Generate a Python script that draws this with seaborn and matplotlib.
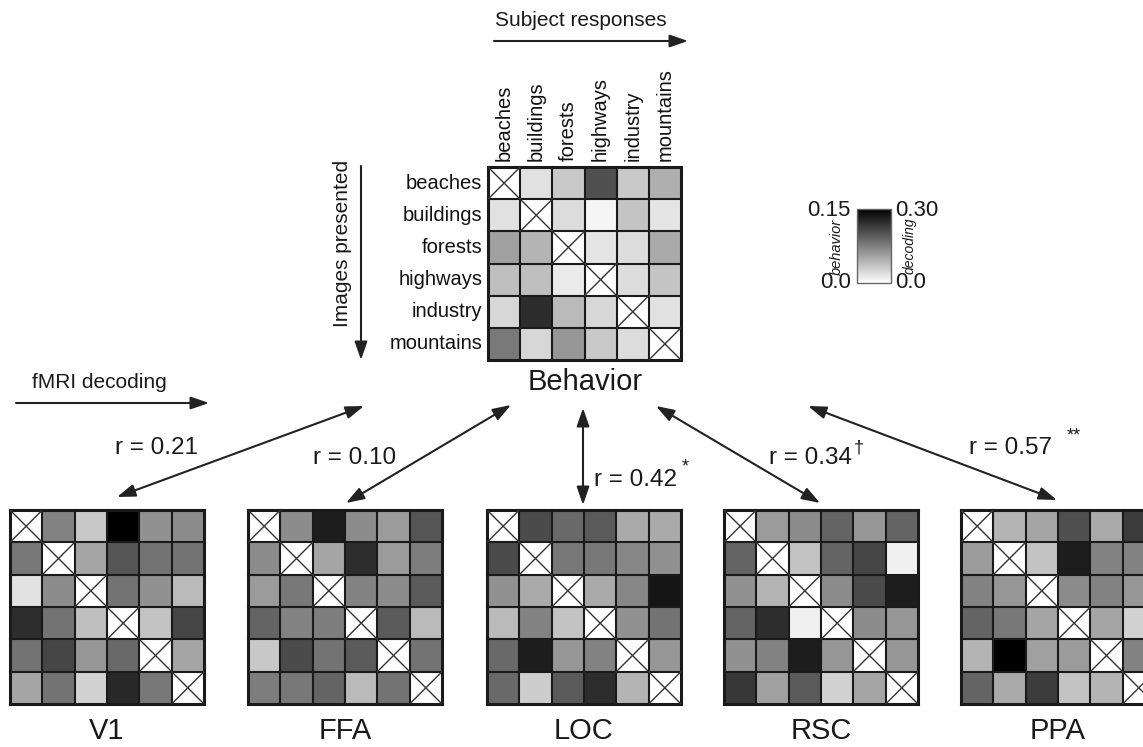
import numpy as np
import pandas as pd
import matplotlib
matplotlib.use('Agg')
import matplotlib.pyplot as plt
from matplotlib.colors import LinearSegmentedColormap
import seaborn as sns

sns.set_theme(style='white')
plt.rcParams['font.family'] = ['Liberation Sans', 'DejaVu Sans']

nan = np.nan

# ── DATA ─────────────────────────────────────────────
categories = ['beaches', 'buildings', 'forests', 'highways', 'industry', 'mountains']

# behavior confusion (proportion of responses), scale 0 - 0.15
behavior = [
    [nan, 0.018, 0.032, 0.103, 0.032, 0.047],
    [0.018, nan, 0.021, 0.006, 0.035, 0.016],
    [0.056, 0.044, nan, 0.016, 0.021, 0.050],
    [0.038, 0.038, 0.012, nan, 0.021, 0.035],
    [0.024, 0.124, 0.041, 0.024, nan, 0.018],
    [0.079, 0.024, 0.062, 0.032, 0.021, nan],
]

# fMRI decoding confusions, scale 0 - 0.30
v1 = [
    [nan, 0.147, 0.065, 0.300, 0.129, 0.135],
    [0.159, nan, 0.106, 0.200, 0.165, 0.165],
    [0.035, 0.135, nan, 0.165, 0.129, 0.082],
    [0.247, 0.165, 0.076, nan, 0.071, 0.218],
    [0.165, 0.218, 0.124, 0.176, nan, 0.106],
    [0.106, 0.165, 0.053, 0.253, 0.159, nan],
]
ffa = [
    [nan, 0.135, 0.265, 0.135, 0.118, 0.200],
    [0.135, nan, 0.106, 0.247, 0.118, 0.153],
    [0.118, 0.159, nan, 0.147, 0.135, 0.194],
    [0.182, 0.147, 0.153, nan, 0.194, 0.082],
    [0.065, 0.212, 0.165, 0.194, nan, 0.165],
    [0.153, 0.159, 0.182, 0.082, 0.165, nan],
]
loc = [
    [nan, 0.212, 0.176, 0.194, 0.100, 0.100],
    [0.212, nan, 0.159, 0.159, 0.141, 0.129],
    [0.129, 0.100, nan, 0.100, 0.141, 0.276],
    [0.082, 0.147, 0.071, nan, 0.129, 0.165],
    [0.176, 0.265, 0.124, 0.147, nan, 0.124],
    [0.176, 0.059, 0.194, 0.247, 0.088, nan],
]
rsc = [
    [nan, 0.118, 0.135, 0.182, 0.124, 0.182],
    [0.182, nan, 0.071, 0.182, 0.218, 0.018],
    [0.129, 0.088, nan, 0.135, 0.212, 0.265],
    [0.182, 0.247, 0.018, nan, 0.135, 0.124],
    [0.129, 0.147, 0.265, 0.124, nan, 0.124],
    [0.235, 0.112, 0.194, 0.053, 0.106, nan],
]
ppa = [
    [nan, 0.088, 0.106, 0.206, 0.100, 0.229],
    [0.118, nan, 0.071, 0.265, 0.147, 0.147],
    [0.147, 0.124, nan, 0.135, 0.147, 0.124],
    [0.182, 0.159, 0.106, nan, 0.106, 0.053],
    [0.088, 0.300, 0.112, 0.118, nan, 0.147],
    [0.182, 0.100, 0.229, 0.071, 0.088, nan],
]

regions = ['V1', 'FFA', 'LOC', 'RSC', 'PPA']
region_data = [v1, ffa, loc, rsc, ppa]
r_values = ['r = 0.21', 'r = 0.10', 'r = 0.42', 'r = 0.34', 'r = 0.57']
r_marks = ['', '', '*', '\u2020', '**']

behavior_max = 0.15
decoding_max = 0.30

# ── LAYOUT (pixels) ──────────────────────────────────
W, H = 1143, 747
cmap = LinearSegmentedColormap.from_list('gw', ['#ffffff', '#000000'])
ink = '#1a1a1a'

fig = plt.figure(figsize=(W / 100, H / 100), dpi=100)


def px_axes(left, top, width, height):
    return fig.add_axes([left / W, 1 - (top + height) / H, width / W, height / H])


def draw_matrix(ax, values, vmax, labels=False, cbar_ax=None):
    df = pd.DataFrame(values, index=categories, columns=categories)
    sns.heatmap(df, ax=ax, cmap=cmap, vmin=0, vmax=vmax,
                cbar=cbar_ax is not None, cbar_ax=cbar_ax,
                xticklabels=labels, yticklabels=labels, linewidths=0)
    n = len(categories)
    for i in range(n + 1):
        lw = 2.2 if i in (0, n) else 1.5
        ax.axhline(i, color=ink, lw=lw, clip_on=False, solid_capstyle='projecting')
        ax.axvline(i, color=ink, lw=lw, clip_on=False, solid_capstyle='projecting')
    for i in range(n):
        ax.plot([i, i + 1], [i, i + 1], color='#333333', lw=1.0)
        ax.plot([i, i + 1], [i + 1, i], color='#333333', lw=1.0)
    ax.set_xlim(0, n)
    ax.set_ylim(n, 0)
    ax.set_xlabel('')
    ax.set_ylabel('')


# overlay for arrows and free text
ov = fig.add_axes([0, 0, 1, 1])
ov.set_xlim(0, W)
ov.set_ylim(H, 0)
ov.axis('off')


def arrow(x1, y1, x2, y2, double=True):
    style = '<|-|>' if double else '-|>'
    ov.annotate('', xy=(x2, y2), xytext=(x1, y1),
                arrowprops=dict(arrowstyle=f'{style},head_length=1.1,head_width=0.38',
                                color='#222222', lw=1.5, shrinkA=0, shrinkB=0,
                                mutation_scale=10))


# ── BEHAVIOR MATRIX ──────────────────────────────────
ax_b = px_axes(488, 167, 193, 193)
cax = px_axes(857, 209, 34, 74)
draw_matrix(ax_b, behavior, behavior_max, labels=True, cbar_ax=cax)
ax_b.xaxis.tick_top()
ax_b.tick_params(length=0, pad=4, labelsize=14.5, colors='#111111')
plt.setp(ax_b.get_xticklabels(), rotation=90, ha='center', va='bottom')
plt.setp(ax_b.get_yticklabels(), rotation=0)

cbar = ax_b.collections[0].colorbar
cbar.set_ticks([])
cbar.outline.set_edgecolor('#666666')
cbar.outline.set_linewidth(1.0)

ov.text(851, 211, '0.15', ha='right', va='center', fontsize=16, color=ink)
ov.text(895, 211, '0.30', ha='left', va='center', fontsize=16, color=ink)
ov.text(851, 283, '0.0', ha='right', va='center', fontsize=16, color=ink)
ov.text(895, 283, '0.0', ha='left', va='center', fontsize=16, color=ink)
ov.text(837, 247, 'behavior', rotation=90, ha='center', va='center',
        fontsize=10.5, style='italic', color=ink)
ov.text(910, 246, 'decoding', rotation=90, ha='center', va='center',
        fontsize=10, style='italic', color=ink)

ov.text(581, 20, 'Subject responses', ha='center', va='center', fontsize=15, color=ink)
arrow(494, 41, 688, 41, double=False)
ov.text(342, 243, 'Images presented', rotation=90, ha='center', va='center',
        fontsize=15, color=ink)
arrow(361, 166, 361, 360, double=False)
ov.text(585, 382, 'Behavior', ha='center', va='center', fontsize=21, color=ink)

ov.text(32, 382, 'fMRI decoding', ha='left', va='center', fontsize=15, color=ink)
arrow(16, 403, 209, 403, double=False)

# ── DECODING MATRICES ────────────────────────────────
lefts = [10, 248, 487, 724, 961]
for name, vals, left in zip(regions, region_data, lefts):
    ax = px_axes(left, 510, 194, 194)
    draw_matrix(ax, vals, decoding_max)
    ov.text(left + 97, 731, name, ha='center', va='center', fontsize=21, color=ink)

# ── CORRELATION ARROWS ───────────────────────────────
arrow_ends = [((117, 497), (364, 406)),
              ((346, 503), (511, 405)),
              ((583, 505), (583, 408)),
              ((820, 503), (656, 406)),
              ((1057, 500), (808, 406))]
label_pos = [(115, 448), (313, 458), (594, 480), (769, 458), (969, 448)]
mark_pos = [(0, 0), (0, 0), (682, 467), (854, 448), (1067, 436)]

for (a, b), txt, (tx, ty), mark, (mx, my) in zip(arrow_ends, r_values, label_pos,
                                                 r_marks, mark_pos):
    arrow(a[0], a[1], b[0], b[1])
    ov.text(tx, ty, txt, ha='left', va='center', fontsize=17.5, color=ink)
    if mark:
        ov.text(mx, my, mark, ha='left', va='center', fontsize=13, color=ink)

plt.savefig('out.png', dpi=100)
plt.close()
